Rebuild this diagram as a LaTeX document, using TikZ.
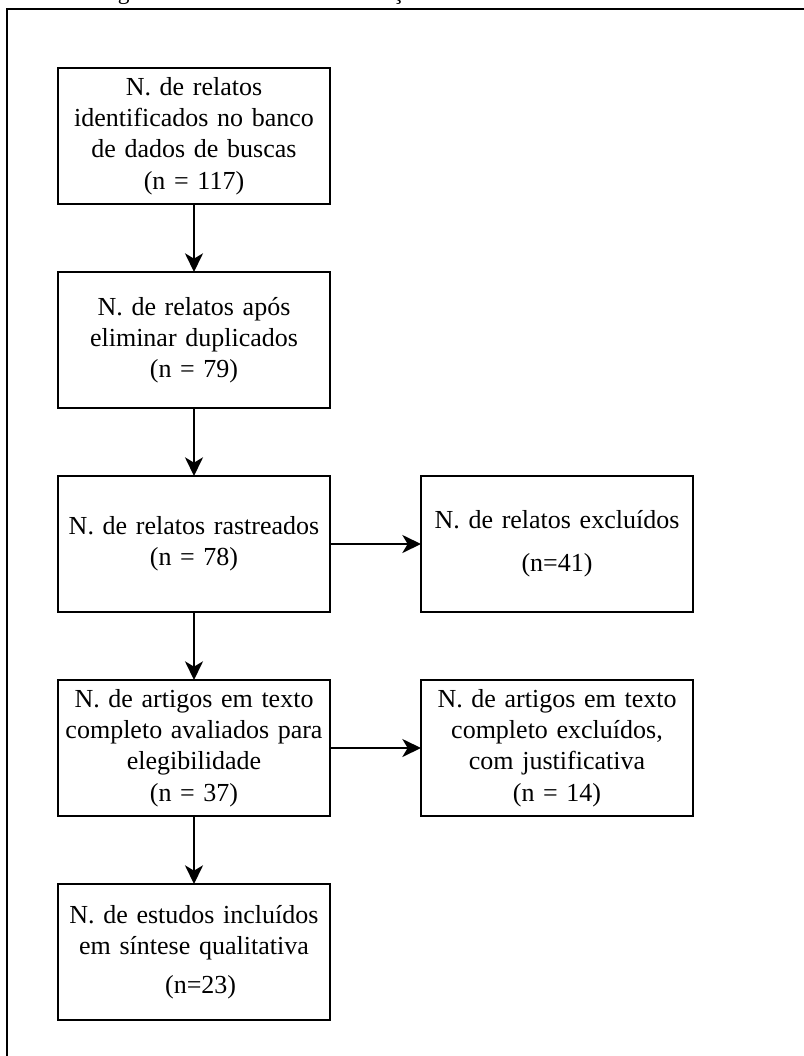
\documentclass[tikz,border=0pt]{standalone}
\usepackage{fontspec}
\setmainfont{Liberation Serif}
\usetikzlibrary{positioning, arrows.meta}
\newcommand{\flowarrow}{-{Stealth[length=14pt,width=13.5pt,inset=4pt]}}
\newcommand{\rowgap}{51pt}
\newcommand{\colgap}{68.25pt}
\tikzset{
  stage/.style={draw, line width=1.5pt, outer sep=0pt, minimum width=204pt,
    minimum height=102pt, text width=202pt, inner sep=0pt, align=center,
    font=\fontsize{19.5}{23.4}\selectfont}
}

\begin{document}
\begin{tikzpicture}[line width=1.5pt]
            \useasboundingbox (0,0) rectangle (602.25pt,-792pt);
            \node[anchor=base west, inner sep=0pt, font=\fontsize{17.6}{20}\selectfont]
            (title) at (46.5pt,0.6pt) {Fluxograma da Modelo de Informação de Revisão Sistemática};
            \draw (5.6pt,-6.4pt) rectangle (640pt,-830pt);
            \node[stage] (one) at (145.5pt,-102pt)
            { N. de relatos\\ identificados no banco\\ de dados de buscas\\ (n = 117) };
            \node[stage, below=\rowgap of one] (two)
            { N. de relatos após\\ eliminar duplicados\\ (n = 79) };
            \node[stage, below=\rowgap of two] (three)
            { N. de relatos rastreados\\ (n = 78) };
            \node[stage, right=\colgap of three] (threeout)
            { N. de relatos excluídos\\[9pt] (n=41) };
            \node[stage, below=\rowgap of three] (four)
            { N. de artigos em texto\\ completo avaliados para\\ elegibilidade\\ (n = 37) };
            \node[stage, right=\colgap of four] (fourout)
            { N. de artigos em texto\\ completo excluídos,\\ com justificativa\\ (n = 14) };
            \node[stage, below=\rowgap of four] (five)
            { N. de estudos incluídos\\ em síntese qualitativa\\[6pt] \hspace*{10pt}(n=23) };
            \draw[\flowarrow] (one) -- (two);
            \draw[\flowarrow] (two) -- (three);
            \draw[\flowarrow] (three) -- (threeout);
            \draw[\flowarrow] (three) -- (four);
            \draw[\flowarrow] (four) -- (fourout);
            \draw[\flowarrow] (four) -- (five);
        \end{tikzpicture}
\end{document}
